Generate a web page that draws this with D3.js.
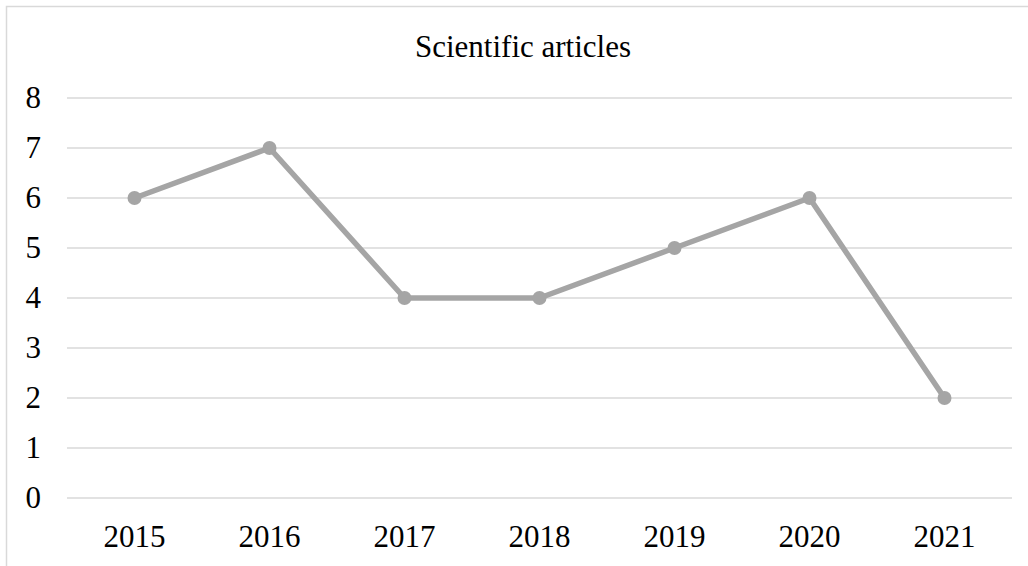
<!DOCTYPE html>
<html>
<head>
<meta charset="utf-8">
<script src="https://cdn.jsdelivr.net/npm/d3@7"></script>
<style>
  body { margin: 0; background: #fff; }
  svg { display: block; }
</style>
</head>
<body>
<svg id="chart" width="1028" height="566"></svg>
<script>
const years = ["2015", "2016", "2017", "2018", "2019", "2020", "2021"];
const articles = [6, 7, 4, 4, 5, 6, 2];
const yTicks = [0, 1, 2, 3, 4, 5, 6, 7, 8];
const chartTitle = "Scientific articles";

const width = 1028, height = 566;
const margin = { top: 98, right: 16, bottom: 68, left: 67 };
const font = "'Liberation Serif', 'Times New Roman', serif";
const lineColor = "#a5a5a5";

const svg = d3.select("#chart");

// outer frame
svg.append("rect")
  .attr("x", 6.5).attr("y", 6.5)
  .attr("width", width + 10).attr("height", height + 10)
  .attr("fill", "#fff")
  .attr("stroke", "#d9d9d9")
  .attr("stroke-width", 1.5);

const x = d3.scaleBand()
  .domain(years)
  .range([margin.left, width - margin.right]);

const y = d3.scaleLinear()
  .domain([0, 8])
  .range([height - margin.bottom, margin.top]);

// gridlines
svg.append("g")
  .selectAll("line")
  .data(yTicks)
  .join("line")
  .attr("x1", x.range()[0])
  .attr("x2", x.range()[1])
  .attr("y1", d => y(d))
  .attr("y2", d => y(d))
  .attr("stroke", "#d9d9d9")
  .attr("stroke-width", 1.5);

// y axis labels
const yAxis = g => g
  .attr("transform", `translate(${margin.left},0)`)
  .call(d3.axisLeft(y).tickValues(yTicks).tickSize(0).tickPadding(26).tickFormat(d3.format("d")))
  .call(g => g.select(".domain").remove())
  .call(g => g.selectAll("text")
    .attr("font-family", font)
    .attr("font-size", 31)
    .attr("fill", "#000"));

// x axis labels
const xAxis = g => g
  .attr("transform", `translate(0,${height - margin.bottom})`)
  .call(d3.axisBottom(x).tickSize(0).tickPadding(0))
  .call(g => g.select(".domain").remove())
  .call(g => g.selectAll("text")
    .attr("dy", null)
    .attr("y", 49)
    .attr("font-family", font)
    .attr("font-size", 31)
    .attr("fill", "#000"));

svg.append("g").call(yAxis);
svg.append("g").call(xAxis);

const cx = d => x(d) + x.bandwidth() / 2;

const line = d3.line()
  .x((d, i) => cx(years[i]))
  .y(d => y(d));

svg.append("path")
  .datum(articles)
  .attr("fill", "none")
  .attr("stroke", lineColor)
  .attr("stroke-width", 5.5)
  .attr("stroke-linejoin", "round")
  .attr("stroke-linecap", "round")
  .attr("d", line);

svg.append("g")
  .selectAll("circle")
  .data(articles)
  .join("circle")
  .attr("cx", (d, i) => cx(years[i]))
  .attr("cy", d => y(d))
  .attr("r", 7)
  .attr("fill", lineColor);

svg.append("text")
  .attr("x", 523)
  .attr("y", 57)
  .attr("text-anchor", "middle")
  .attr("font-family", font)
  .attr("font-size", 31)
  .attr("fill", "#000")
  .text(chartTitle);
</script>
</body>
</html>
